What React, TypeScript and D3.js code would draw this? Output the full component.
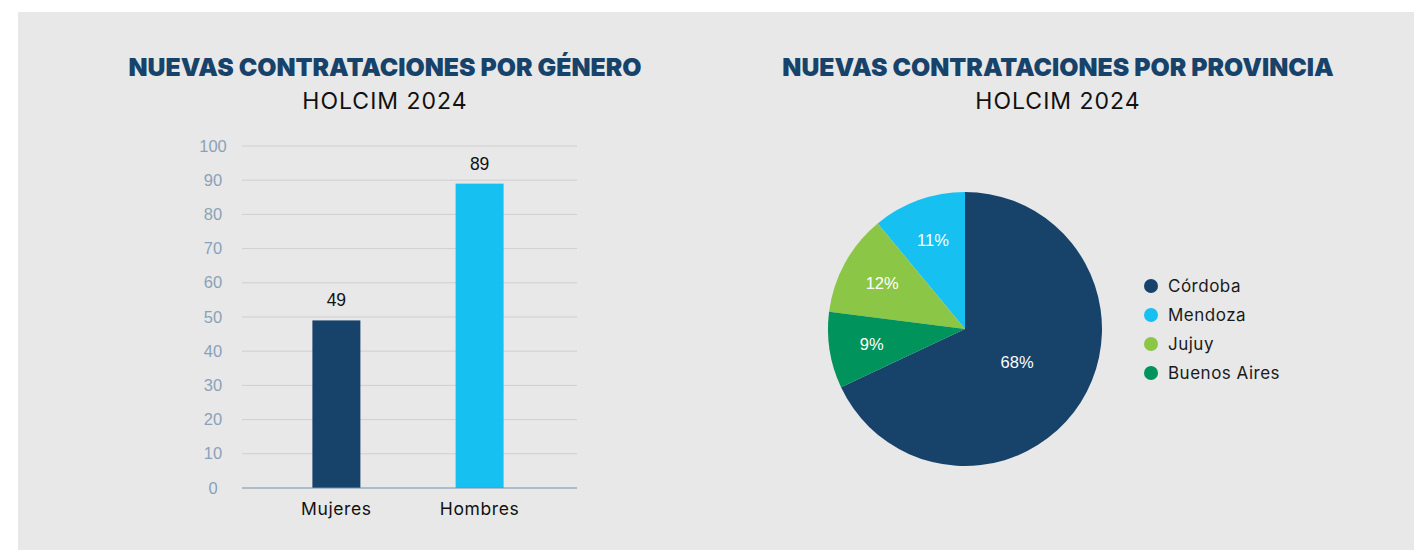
import * as d3 from 'd3';
import { useEffect, useRef } from 'react';

// bar chart data
const genders = ['Mujeres', 'Hombres'];
const hires = [49, 89];
const barColors = ['#17436b', '#16c1f2'];
const yTicks = [0, 10, 20, 30, 40, 50, 60, 70, 80, 90, 100];

// pie chart data (legend order)
const provinces = ['Córdoba', 'Mendoza', 'Jujuy', 'Buenos Aires'];
const shares = [68, 11, 12, 9];
const provinceColors = ['#17436b', '#16c1f2', '#8cc646', '#00935b'];
// clockwise from 12 o'clock
const sliceOrder = ['Córdoba', 'Buenos Aires', 'Jujuy', 'Mendoza'];

const titleLeft = 'NUEVAS CONTRATACIONES POR GÉNERO';
const titleRight = 'NUEVAS CONTRATACIONES POR PROVINCIA';
const subtitle = 'HOLCIM 2024';

const W = 1414;
const H = 550;
const NAVY = '#17436b';
const TEXT_FONT = 'Inter, "Noto Sans", sans-serif';
const NUM_FONT = '"Liberation Sans", Arial, sans-serif';

export default function App() {
  const svgRef = useRef<SVGSVGElement>(null);

  useEffect(() => {
    const svg = d3.select(svgRef.current);
    svg.selectAll('*').remove();

    // panel background
    svg.append('rect')
      .attr('x', 18).attr('y', 12)
      .attr('width', W - 18).attr('height', H - 12)
      .attr('fill', '#e8e8e8');

    // titles
    const titles = [
      { t: titleLeft, x: 385 },
      { t: titleRight, x: 1058 },
    ];
    titles.forEach(({ t, x }) => {
      svg.append('text')
        .attr('x', x).attr('y', 76)
        .attr('text-anchor', 'middle')
        .attr('font-family', TEXT_FONT)
        .attr('font-weight', 900)
        .attr('font-size', 24.8)
        .attr('fill', NAVY)
        .text(t);
      svg.append('text')
        .attr('x', x).attr('y', 109)
        .attr('text-anchor', 'middle')
        .attr('font-family', TEXT_FONT)
        .attr('font-size', 23)
        .attr('letter-spacing', 1)
        .attr('fill', '#111')
        .text(subtitle);
    });

    // ---- bar chart ----
    const left = 242, right = 577, top = 146, bottom = 488;
    const y = d3.scaleLinear().domain([0, 100]).range([bottom, top]);
    const x = d3.scalePoint().domain(genders).range([left - 3, right]).padding(0.68);
    const barW = 48;

    const grid = svg.append('g');
    grid.selectAll('line')
      .data(yTicks.filter((d) => d > 0))
      .join('line')
      .attr('x1', left).attr('x2', right)
      .attr('y1', (d) => y(d)).attr('y2', (d) => y(d))
      .attr('stroke', '#cfcfcf')
      .attr('stroke-width', 1);

    svg.append('g')
      .selectAll('text')
      .data(yTicks)
      .join('text')
      .attr('x', 213)
      .attr('y', (d) => y(d) + 5.5)
      .attr('text-anchor', 'middle')
      .attr('font-family', NUM_FONT)
      .attr('font-size', 16.5)
      .attr('fill', '#8aa2b8')
      .text((d) => d);

    svg.append('g')
      .selectAll('rect')
      .data(hires)
      .join('rect')
      .attr('x', (_, i) => x(genders[i])! - barW / 2)
      .attr('y', (d) => y(d))
      .attr('width', barW)
      .attr('height', (d) => y(0) - y(d))
      .attr('fill', (_, i) => barColors[i]);

    svg.append('line')
      .attr('x1', left).attr('x2', right)
      .attr('y1', y(0)).attr('y2', y(0))
      .attr('stroke', '#6f8fae')
      .attr('stroke-width', 1.2);

    svg.append('g')
      .selectAll('text')
      .data(hires)
      .join('text')
      .attr('x', (_, i) => x(genders[i])!)
      .attr('y', (d) => y(d) - 14)
      .attr('text-anchor', 'middle')
      .attr('font-family', NUM_FONT)
      .attr('font-size', 17.5)
      .attr('fill', '#111')
      .text((d) => d);

    svg.append('g')
      .selectAll('text')
      .data(genders)
      .join('text')
      .attr('x', (d) => x(d)!)
      .attr('y', bottom + 27)
      .attr('text-anchor', 'middle')
      .attr('font-family', TEXT_FONT)
      .attr('font-size', 17.5)
      .attr('letter-spacing', 0.6)
      .attr('fill', '#111')
      .text((d) => d);

    // ---- pie chart ----
    const cx = 965, cy = 329, r = 137;
    const rows = provinces.map((p, i) => ({ name: p, value: shares[i], color: provinceColors[i] }));
    const pie = d3.pie<any>()
      .value((d) => d.value)
      .sort((a, b) => sliceOrder.indexOf(a.name) - sliceOrder.indexOf(b.name));
    const arcs = pie(rows);
    const arc = d3.arc<any>().innerRadius(0).outerRadius(r);

    const pg = svg.append('g').attr('transform', `translate(${cx},${cy})`);
    pg.selectAll('path')
      .data(arcs)
      .join('path')
      .attr('d', arc)
      .attr('fill', (d) => d.data.color);

    pg.selectAll('text')
      .data(arcs)
      .join('text')
      .attr('transform', (d) => {
        const lr = (d.endAngle - d.startAngle > Math.PI ? 0.45 : 0.69) * r;
        const [px, py] = d3.arc<any>().innerRadius(lr).outerRadius(lr).centroid(d);
        return `translate(${px},${py})`;
      })
      .attr('dy', '0.35em')
      .attr('text-anchor', 'middle')
      .attr('font-family', NUM_FONT)
      .attr('font-size', 16.5)
      .attr('fill', '#fff')
      .text((d) => `${d.data.value}%`);

    // legend
    const lg = svg.append('g').attr('transform', 'translate(1151,286)');
    const item = lg.selectAll('g')
      .data(rows)
      .join('g')
      .attr('transform', (_, i) => `translate(0,${i * 29})`);
    item.append('circle').attr('r', 7).attr('fill', (d) => d.color);
    item.append('text')
      .attr('x', 17)
      .attr('dy', '0.35em')
      .attr('font-family', TEXT_FONT)
      .attr('font-size', 17)
      .attr('letter-spacing', 0.5)
      .attr('fill', '#1a1a1a')
      .text((d) => d.name);
  }, []);

  return (
    <svg
      ref={svgRef}
      width={W}
      height={H}
      style={{ position: 'absolute', left: 0, top: 0, display: 'block', background: '#fff' }}
    />
  );
}
